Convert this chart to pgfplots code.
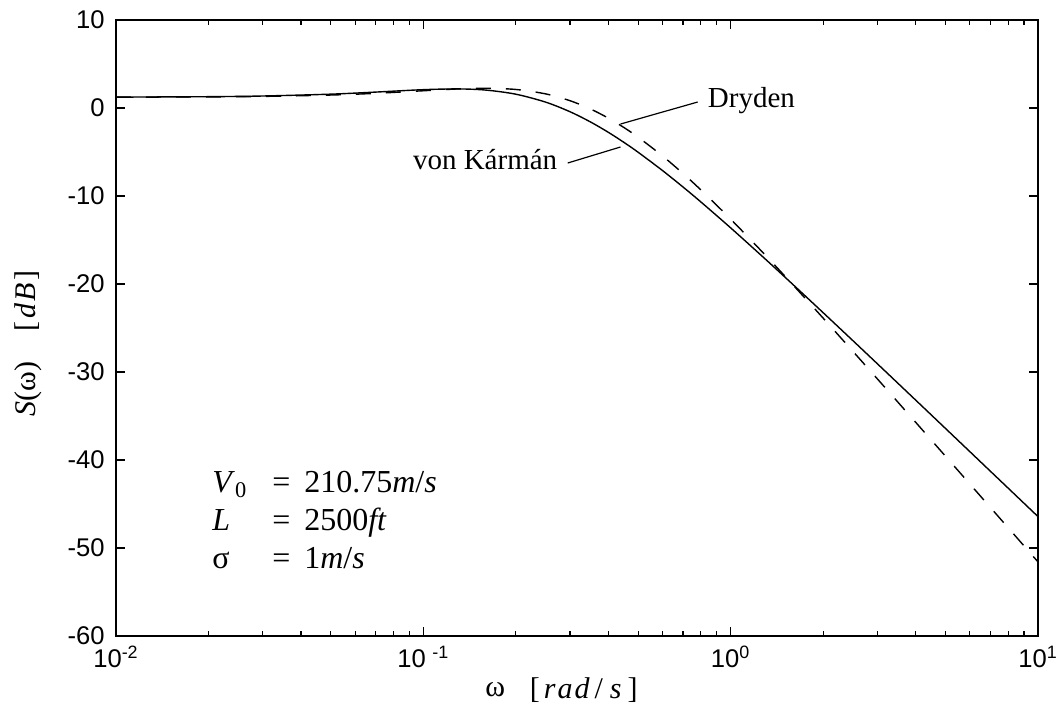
\documentclass[border=0pt]{standalone}
\usepackage{fontspec}
\setmainfont{Liberation Serif}
\newfontfamily\helv{Liberation Sans}
\usepackage{pgfplots}
\usepackage{pgfplotstable}
\pgfplotsset{compat=1.18}

% Lateral turbulence spectra, 20 log10 S(omega)
\pgfplotstableread{
w     D
0.01  1.232
0.02  1.266
0.03  1.319
0.05  1.475
0.07  1.669
0.10  1.961
0.13  2.170
0.16  2.244
0.20  2.108
0.25  1.606
0.30  0.831
0.35  -0.113
0.40  -1.150
0.45  -2.229
0.50  -3.317
0.60  -5.443
0.70  -7.447
0.80  -9.310
1.00  -12.626
1.30  -16.761
1.60  -20.154
2.00  -23.879
2.50  -27.658
3.00  -30.772
4.00  -35.716
5.00  -39.567
6.00  -42.721
7.00  -45.391
8.00  -47.705
10.0  -51.578
}\dryden

\pgfplotstableread{
w     K
0.01  1.238
0.02  1.287
0.03  1.364
0.05  1.575
0.07  1.810
0.10  2.085
0.13  2.169
0.16  2.036
0.20  1.570
0.25  0.670
0.30  -0.420
0.35  -1.587
0.40  -2.764
0.45  -3.916
0.50  -5.028
0.60  -7.103
0.70  -8.979
0.80  -10.675
1.00  -13.620
1.30  -17.205
1.60  -20.105
2.00  -23.261
2.50  -26.443
3.00  -29.056
4.00  -33.194
5.00  -36.413
6.00  -39.045
7.00  -41.273
8.00  -43.203
10.0  -46.431
}\karman

\begin{document}
\begin{tikzpicture}
% page frame around the axis box (axis box lower-left corner sits at the origin)
\path[use as bounding box] (-58pt,-35.5pt) rectangle (471pt,318pt);
\begin{semilogxaxis}[
  at={(0pt,0pt)}, anchor=south west,
  scale only axis,
  width=461pt, height=308pt,
  xmin=0.01, xmax=10, ymin=-60, ymax=10,
  clip=false,
  xtick={0.01,0.1,1,10},
  xticklabels={10\textsuperscript{-2},10\hspace{0.25em}\textsuperscript{-1},10\textsuperscript{0},10\textsuperscript{1}},
  ytick={-60,-50,-40,-30,-20,-10,0,10},
  yticklabels={-60,-50,-40,-30,-20,-10,0,10},
  tick label style={font=\helv\fontsize{12.8}{14}\selectfont, inner sep=0pt},
  xticklabel style={yshift=-5pt},
  yticklabel style={xshift=-5.5pt},
  tick align=inside,
  xtick pos=both, ytick pos=both,
  major tick length=4.3pt, minor tick length=2.5pt,
  every tick/.style={black, line width=0.6pt},
  axis line style={line width=0.9pt},
  ylabel={\textit{S}(ω)\hspace{15pt}[\kern1.5pt\textit{d\kern0.8pt B}\kern1.5pt]},
  ylabel style={font=\fontsize{15}{17}\selectfont, inner sep=0pt, at={(axis description cs:-0.0803,0.475)}, anchor=south},
]
\addplot[black, line width=0.7pt, dash pattern=on 7.5pt off 7.5pt, smooth] table[x=w, y=D] {\dryden};
\addplot[black, line width=0.7pt, smooth] table[x=w, y=K] {\karman};

% x-axis label, set in two pieces
\node[anchor=west, inner sep=0pt, font=\fontsize{15}{17}\selectfont] at (axis description cs:0.4002,-0.0877) {ω};
\node[anchor=east, inner sep=0pt, font=\fontsize{15}{17}\selectfont] at (axis description cs:0.5662,-0.0877)
  {[\kern2pt\textit{r\kern1pt a\kern1pt d}\kern2.5pt/\kern3.5pt\textit{s}\kern3pt]};

% callouts
\draw[black, line width=0.6pt] (axis cs:0.781,0.68) -- (axis cs:0.438,-1.82);
\draw[black, line width=0.6pt] (axis cs:0.295,-6.25) -- (axis cs:0.438,-4.43);
\node[anchor=west, inner sep=0pt, font=\fontsize{14.5}{16}\selectfont] at (axis cs:0.841,0.8) {Dryden};
\node[anchor=east, inner sep=0pt, font=\fontsize{14.5}{16}\selectfont] at (axis cs:0.2735,-5.85) {von Kármán};

% flight condition
\node[anchor=base west, inner sep=0pt, font=\fontsize{16}{19}\selectfont] at (axis cs:0.02054,-43.64)
{\begin{tabular}[t]{@{}l@{\hspace{12.5pt}}c@{\hspace{7pt}}l@{}}
\textit{V}\textsubscript{0} & = & 210.75\textit{m}/\textit{s}\\
\textit{L} & = & 2500\textit{ft}\\
σ & = & 1\textit{m}/\textit{s}
\end{tabular}};
\end{semilogxaxis}
\end{tikzpicture}
\end{document}
